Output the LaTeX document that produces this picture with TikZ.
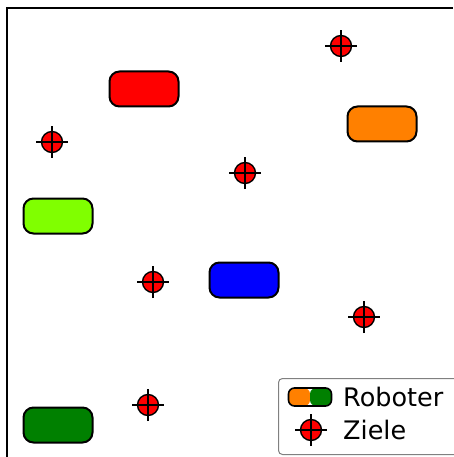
\documentclass[tikz,border=0pt]{standalone}
\usepackage{fontspec}
\setmainfont{DejaVu Sans}
\usetikzlibrary{positioning}
\definecolor{robrot}{RGB}{255,0,0}
\definecolor{roborange}{RGB}{255,128,0}
\definecolor{robhellgruen}{RGB}{128,255,0}
\definecolor{robblau}{RGB}{0,0,255}
\definecolor{robgruen}{RGB}{0,128,0}
\definecolor{legrahmen}{RGB}{128,128,128}

\begin{document}
\begin{tikzpicture}[x=1pt,y=-1pt,robot/.style={draw=black,line width=2pt,rounded corners=10pt,minimum width=69pt,minimum height=35pt,inner sep=0pt},ziel/.style={circle,draw=black,fill=robrot,line width=1.4pt,minimum size=21pt,inner sep=0pt},kreuz/.style={line width=1.4pt,draw=black},legtext/.style={font=\fontsize{25.5}{29}\selectfont,anchor=west,inner sep=0pt}]
\useasboundingbox (0,0) rectangle (453,457);

% Achsen
\draw[line width=2pt] (7,457) -- (7,8) -- (453,8);

% Roboter
\node[robot,fill=robrot] (rrot) at (144,89) {};
\node[robot,fill=roborange] (rorange) at (382,124) {};
\node[robot,fill=robhellgruen] (rhellgruen) at (58,216) {};
\node[robot,fill=robblau] (rblau) at (244,280) {};
\node[robot,fill=robgruen] (rgruen) at (58,425) {};

% Ziele
\foreach \n/\p in {a/{(341,46)},b/{(52,142)},c/{(245,173)},d/{(153,282)},e/{(364,317)},f/{(148,405)}}{
  \node[ziel] (z\n) at \p {};
  \draw[kreuz] ([xshift=-16pt]z\n.center) -- ([xshift=16pt]z\n.center);
  \draw[kreuz] ([yshift=-16pt]z\n.center) -- ([yshift=16pt]z\n.center);
}

% Legende
\node[draw=legrahmen,line width=1pt,rounded corners=4pt,fill=white,minimum width=190pt,minimum height=76pt,anchor=north west] (legende) at (278,378) {};
\node[robot,line width=1.6pt,minimum width=43pt,minimum height=18pt,rounded corners=6pt,path picture={
  \fill[roborange] (path picture bounding box.south west) rectangle (path picture bounding box.north);
  \fill[robgruen] (path picture bounding box.south) rectangle (path picture bounding box.north east);}] (lrobot) at (310,397) {};
\node[legtext] (ltroboter) at (343,397) {Roboter};
\node[ziel] (lziel) at (311,430) {};
\draw[kreuz] ([xshift=-16pt]lziel.center) -- ([xshift=16pt]lziel.center);
\draw[kreuz] ([yshift=-16pt]lziel.center) -- ([yshift=16pt]lziel.center);
\node[legtext] (ltziele) at (343,430) {Ziele};
\end{tikzpicture}
\end{document}
